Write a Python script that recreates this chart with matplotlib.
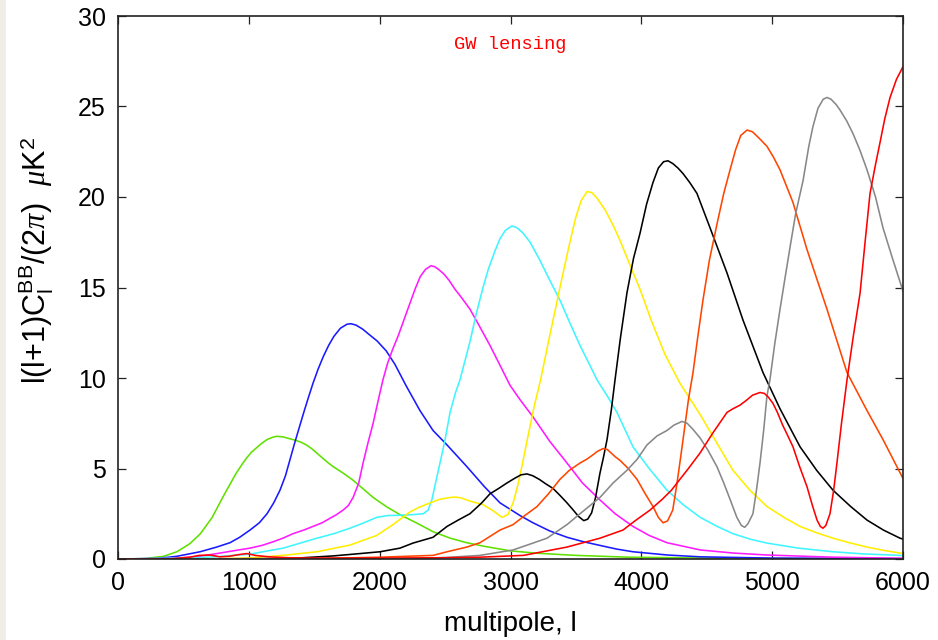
import matplotlib
matplotlib.use("Agg")
import matplotlib.pyplot as plt
from matplotlib.patches import Rectangle

plt.rcParams['font.family'] = ['Liberation Sans', 'DejaVu Sans']
plt.rcParams['mathtext.fontset'] = 'custom'
plt.rcParams['mathtext.rm'] = 'Liberation Sans'
plt.rcParams['mathtext.it'] = 'Liberation Serif:italic'

# BB spectra: multipole l and l(l+1)C_l/(2pi) in uK^2
l_green = [0, 200, 350, 450, 550, 630, 720, 800, 900, 950, 985, 1020, 1060, 1100, 1140, 1180,
           1213, 1260, 1310, 1360, 1400, 1440, 1480, 1520, 1560, 1600, 1645, 1720, 1797, 1870,
           1950, 2050, 2155, 2280, 2410, 2540, 2665, 2800, 3000, 3200, 3500, 3900, 4500, 5000,
           6000]
v_green = [0, 0.02, 0.15, 0.4, 0.85, 1.4, 2.3, 3.4, 4.7, 5.25, 5.6, 5.9, 6.15, 6.4, 6.6, 6.72,
           6.78, 6.75, 6.65, 6.55, 6.45, 6.3, 6.1, 5.85, 5.6, 5.35, 5.1, 4.75, 4.35, 3.9,
           3.4, 2.9, 2.45, 2.0, 1.5, 1.15, 0.9, 0.7, 0.45, 0.32, 0.2, 0.1, 0.05, 0.03,
           0.01]

l_blue = [0, 300, 450, 627, 750, 856, 930, 1009, 1080, 1139, 1190, 1238, 1280, 1315, 1350, 1391,
          1420, 1450, 1490, 1530, 1570, 1610, 1650, 1700, 1750, 1780, 1820, 1870, 1920, 1980,
          2050, 2117, 2200, 2308, 2408, 2515, 2667, 2800, 2920, 3073, 3172, 3300, 3432, 3560,
          3684, 3810, 3936, 4200, 4450, 5000, 6000]
v_blue = [0, 0.03, 0.15, 0.4, 0.65, 0.9, 1.2, 1.6, 2.0, 2.5, 3.1, 3.8, 4.6, 5.5, 6.4, 7.4,
          8.1, 8.8, 9.7, 10.5, 11.2, 11.8, 12.3, 12.75, 12.97, 13.0, 12.92, 12.7, 12.4, 12.05,
          11.5, 10.75, 9.6, 8.2, 7.1, 6.3, 5.1, 4.0, 3.1, 2.4, 2.0, 1.55, 1.2, 0.95,
          0.75, 0.55, 0.4, 0.22, 0.12, 0.05, 0.02]

l_magenta = [0, 400, 600, 756, 880, 1009, 1100, 1185, 1260, 1338, 1420, 1490, 1560, 1620, 1670,
             1720, 1760, 1797, 1840, 1873, 1910, 1950, 1990, 2025, 2060, 2100, 2140, 2180, 2220,
             2270, 2310, 2350, 2392, 2420, 2450, 2490, 2530, 2576, 2630, 2690, 2760, 2843, 2920,
             2996, 3073, 3172, 3300, 3432, 3550, 3684, 3800, 3936, 4060, 4196, 4450, 4700, 4960,
             5465, 6000]
v_magenta = [0, 0.03, 0.12, 0.3, 0.45, 0.6, 0.75, 0.95, 1.15, 1.4, 1.6, 1.8, 2.0, 2.25, 2.45,
             2.7, 2.95, 3.4, 4.2, 5.3, 6.4, 7.5, 8.8, 9.9, 10.8, 11.6, 12.3, 13.1, 13.9,
             14.9, 15.6, 16.0, 16.2, 16.15, 16.0, 15.75, 15.4, 14.9, 14.4, 13.8, 12.9, 11.8, 10.7,
             9.6, 8.8, 7.85, 6.5, 5.3, 4.2, 3.26, 2.5, 1.8, 1.3, 0.9, 0.5, 0.33, 0.22,
             0.1, 0.04]

l_cyan = [0, 500, 750, 1009, 1262, 1521, 1650, 1773, 1880, 1977, 2060, 2155, 2250, 2333, 2370,
          2400, 2430, 2461, 2500, 2538, 2580, 2614, 2650, 2690, 2740, 2790, 2830, 2880, 2920,
          2960, 3011, 3050, 3090, 3150, 3225, 3300, 3378, 3450, 3531, 3600, 3661, 3740, 3814,
          3936, 4060, 4196, 4320, 4450, 4580, 4700, 4830, 4960, 5200, 5465, 5700, 5977, 6000]
v_cyan = [0, 0.05, 0.12, 0.27, 0.6, 1.15, 1.4, 1.7, 2.0, 2.3, 2.4, 2.42, 2.45, 2.5, 2.7,
          3.3, 4.3, 5.3, 6.6, 8.1, 9.2, 9.9, 10.9, 12.0, 13.6, 15.0, 16.0, 17.0, 17.7,
          18.15, 18.4, 18.3, 18.05, 17.5, 16.5, 15.4, 14.3, 13.1, 11.8, 10.8, 9.9, 9.0, 8.1,
          6.2, 5.0, 3.8, 3.0, 2.3, 1.8, 1.4, 1.1, 0.88, 0.6, 0.4, 0.28, 0.2, 0.19]

l_yellow = [0, 800, 1000, 1262, 1521, 1773, 1977, 2102, 2232, 2300, 2385, 2460, 2538, 2580, 2620,
            2690, 2790, 2870, 2935, 2980, 3020, 3060, 3095, 3134, 3180, 3230, 3290, 3340, 3378,
            3420, 3460, 3500, 3540, 3585, 3620, 3660, 3722, 3780, 3837, 3910, 3990, 4080, 4181,
            4296, 4448, 4578, 4700, 4830, 4960, 5090, 5213, 5340, 5465, 5600, 5725, 5850, 5977,
            6000]
v_yellow = [0, 0.02, 0.06, 0.2, 0.4, 0.77, 1.3, 1.9, 2.6, 2.85, 3.1, 3.3, 3.4, 3.42, 3.38,
            3.2, 3.0, 2.65, 2.3, 2.45, 3.1, 4.2, 5.4, 6.8, 8.4, 9.9, 12.0, 13.7, 15.0,
            16.4, 17.7, 18.9, 19.8, 20.3, 20.25, 19.95, 19.3, 18.5, 17.6, 16.3, 14.9, 13.1, 11.3,
            9.7, 8.0, 6.4, 4.9, 3.8, 2.9, 2.3, 1.8, 1.45, 1.15, 0.88, 0.66, 0.48, 0.33,
            0.32]

l_black = [0, 1300, 1645, 1850, 2003, 2155, 2255, 2408, 2515, 2600, 2690, 2780, 2843, 2910, 2973,
           3030, 3080, 3126, 3170, 3220, 3270, 3325, 3380, 3432, 3480, 3520, 3560, 3590, 3620,
           3650, 3684, 3710, 3738, 3770, 3799, 3840, 3890, 3940, 3990, 4040, 4089, 4130, 4170,
           4204, 4240, 4280, 4318, 4370, 4425, 4525, 4655, 4777, 4930, 5060, 5213, 5340, 5465,
           5600, 5725, 5850, 5977, 6000]
v_black = [0, 0.02, 0.17, 0.3, 0.4, 0.6, 0.88, 1.2, 1.8, 2.15, 2.5, 3.1, 3.6, 3.9, 4.2,
           4.45, 4.65, 4.7, 4.6, 4.4, 4.15, 3.9, 3.5, 3.1, 2.7, 2.35, 2.12, 2.2, 2.55,
           3.4, 4.75, 5.6, 6.6, 8.2, 9.9, 12.2, 14.7, 16.6, 18.0, 19.6, 20.8, 21.6, 21.95,
           22.0, 21.85, 21.6, 21.3, 20.8, 20.2, 18.3, 15.8, 13.2, 10.3, 8.3, 6.2, 4.9, 3.8,
           2.9, 2.15, 1.6, 1.15, 1.1]

l_orange = [0, 1500, 2003, 2408, 2515, 2667, 2767, 2920, 3020, 3100, 3203, 3290, 3378, 3450, 3531,
            3580, 3620, 3665, 3707, 3740, 3770, 3800, 3837, 3900, 3967, 4030, 4089, 4130, 4166,
            4200, 4240, 4273, 4300, 4330, 4360, 4395, 4430, 4471, 4520, 4578, 4630, 4678, 4720,
            4760, 4808, 4850, 4900, 4960, 5010, 5060, 5159, 5266, 5419, 5572, 5725, 5847, 6000]
v_orange = [0, 0.02, 0.1, 0.2, 0.4, 0.66, 0.9, 1.6, 1.9, 2.35, 2.9, 3.6, 4.4, 4.9, 5.3,
            5.5, 5.7, 5.95, 6.1, 6.05, 5.85, 5.65, 5.45, 5.0, 4.4, 3.6, 2.9, 2.3, 2.0,
            2.1, 2.7, 4.2, 5.6, 7.2, 8.8, 10.3, 12.2, 14.3, 16.5, 18.5, 20.2, 21.5, 22.6,
            23.4, 23.7, 23.6, 23.25, 22.8, 22.2, 21.5, 19.7, 17.1, 13.8, 10.3, 8.2, 6.6, 4.45]

l_gray = [0, 2200, 2500, 2767, 3020, 3172, 3279, 3432, 3531, 3684, 3784, 3890, 3967, 4043, 4120,
          4196, 4250, 4311, 4350, 4390, 4448, 4510, 4578, 4630, 4678, 4730, 4765, 4790, 4815,
          4853, 4880, 4907, 4935, 4960, 4983, 5020, 5060, 5100, 5136, 5180, 5236, 5280, 5312,
          5350, 5390, 5419, 5450, 5490, 5519, 5570, 5618, 5670, 5725, 5790, 5847, 5920, 6000]
v_gray = [0, 0.02, 0.08, 0.2, 0.5, 0.88, 1.15, 1.9, 2.5, 3.4, 4.2, 4.9, 5.5, 6.3, 6.8,
          7.1, 7.4, 7.6, 7.5, 7.2, 6.7, 6.0, 5.1, 4.2, 3.3, 2.3, 1.85, 1.75, 1.95,
          2.5, 3.8, 5.3, 7.1, 9.0, 9.9, 11.9, 13.8, 15.6, 17.2, 19.1, 20.9, 22.8, 23.9,
          24.9, 25.4, 25.5, 25.4, 25.1, 24.8, 24.2, 23.5, 22.6, 21.5, 20.0, 18.3, 16.6, 14.8]

l_red = [0, 400, 550, 620, 703, 780, 850, 930, 985, 1050, 1150, 1300, 1500, 2000, 2500, 2767,
         3100, 3432, 3684, 3860, 3950, 4066, 4160, 4230, 4273, 4360, 4448, 4550, 4655, 4700,
         4754, 4800, 4850, 4907, 4940, 4970, 5006, 5040, 5080, 5120, 5159, 5210, 5266, 5310,
         5343, 5368, 5388, 5410, 5442, 5470, 5495, 5530, 5572, 5620, 5672, 5710, 5748, 5790,
         5824, 5860, 5901, 5950, 6000]
v_red = [0, 0.01, 0.1, 0.2, 0.22, 0.12, 0.15, 0.25, 0.3, 0.2, 0.12, 0.07, 0.05, 0.05, 0.07, 0.1,
         0.2, 0.66, 1.15, 1.6, 2.1, 2.7, 3.3, 3.8, 4.2, 5.0, 5.85, 7.0, 8.1, 8.3,
         8.5, 8.75, 9.05, 9.2, 9.15, 8.95, 8.6, 8.1, 7.4, 6.8, 6.2, 5.1, 4.0, 2.9,
         2.15, 1.8, 1.7, 1.85, 2.5, 3.8, 5.3, 7.5, 9.9, 12.3, 14.7, 17.5, 20.2, 21.8,
         23.0, 24.3, 25.5, 26.5, 27.2]

curves = [
    (l_green, v_green, '#5fe000'),
    (l_blue, v_blue, '#1a1aff'),
    (l_magenta, v_magenta, '#ff1aff'),
    (l_cyan, v_cyan, '#3ff5ff'),
    (l_yellow, v_yellow, '#ffee00'),
    (l_black, v_black, '#000000'),
    (l_orange, v_orange, '#ff4500'),
    (l_gray, v_gray, '#888888'),
    (l_red, v_red, '#ff0000'),
]

fig = plt.figure(figsize=(9.38, 6.4), dpi=100)
fig.patches.append(Rectangle((0, 0), 6 / 938, 1, transform=fig.transFigure,
                             facecolor='#efeee6', edgecolor='none'))
ax = fig.add_axes([118 / 938, 1 - 559 / 640, 785 / 938, 543 / 640])

for l, v, c in curves:
    ax.plot(l, v, color=c, lw=1.15, solid_joinstyle='round')

ax.set_xlim(0, 6000)
ax.set_ylim(0, 30)
ax.set_xticks(range(0, 6001, 1000))
ax.set_yticks(range(0, 31, 5))
ax.tick_params(direction='in', length=5.5, width=0.9, top=True, right=True,
               labelsize=18, pad=9, color='#222222')
for s in ax.spines.values():
    s.set_linewidth(1.2)
    s.set_color('#222222')

ax.set_xlabel('multipole, l', fontsize=20, labelpad=11)
ax.set_ylabel(r'l(l+1)C$_\mathregular{l}^\mathregular{BB}$/(2$\pi$)  $\mu$K$^\mathregular{2}$',
              fontsize=22, va='center')
ax.yaxis.set_label_coords(-0.104, 0.55)

ax.text(0.4995, 0.948, 'GW lensing', transform=ax.transAxes, color='#ff0000',
        fontsize=13.5, family='Liberation Mono', ha='center', va='center')

fig.savefig('out.png', dpi=100)
